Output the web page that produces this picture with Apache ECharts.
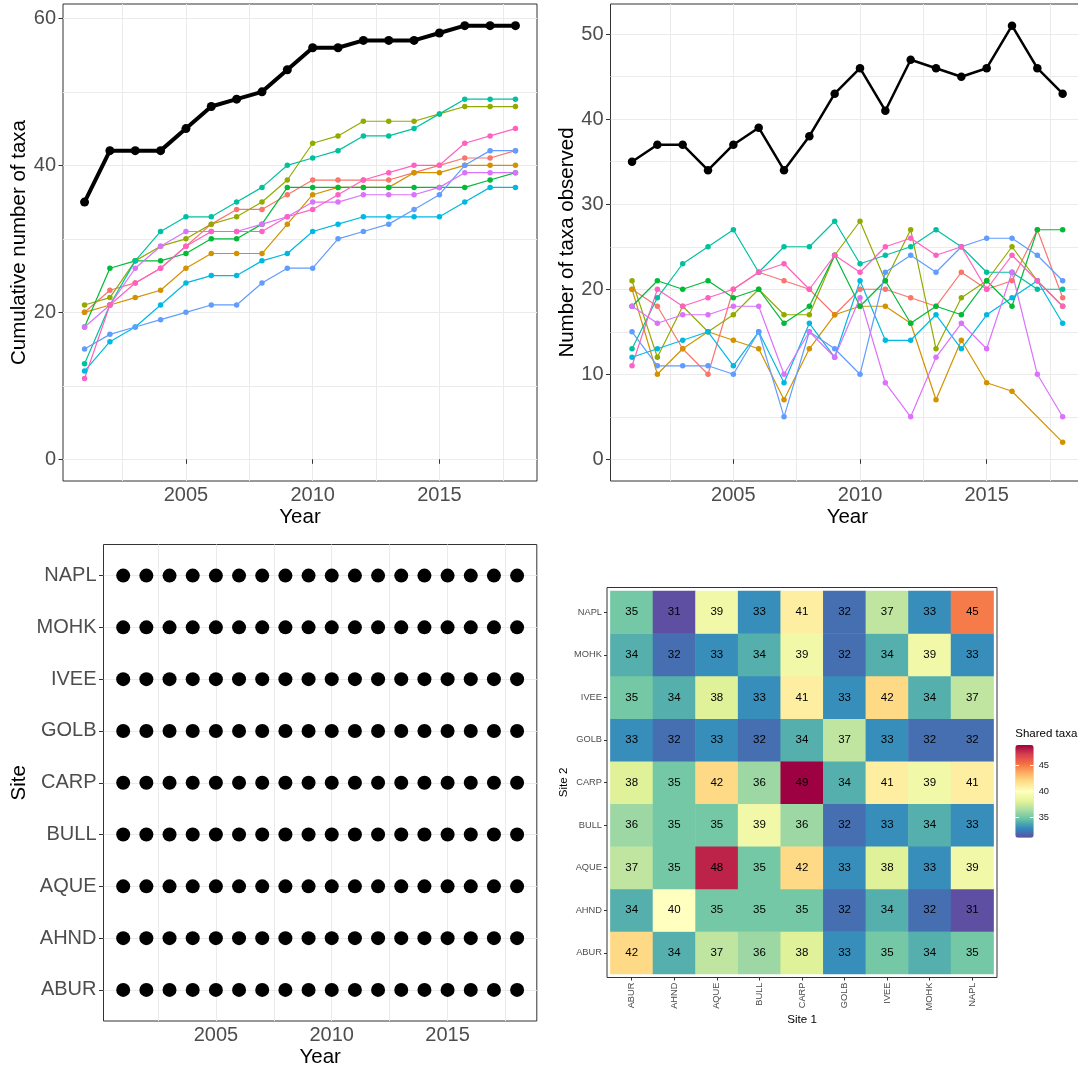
<!DOCTYPE html>
<html>
<head>
<meta charset="utf-8">
<title>Taxa richness by site</title>
<script src="https://cdn.jsdelivr.net/npm/echarts@6/dist/echarts.min.js"></script>
<style>
  html, body { margin: 0; padding: 0; background: #ffffff; }
  #chart { width: 1078px; height: 1069px; }
</style>
</head>
<body>
<div id="chart"></div>
<script>
// ---------------- data ----------------
const years = [2001, 2002, 2003, 2004, 2005, 2006, 2007, 2008, 2009, 2010, 2011, 2012, 2013, 2014, 2015, 2016, 2017, 2018];
const sites = ['ABUR', 'AHND', 'AQUE', 'BULL', 'CARP', 'GOLB', 'IVEE', 'MOHK', 'NAPL'];
const siteColors = ['#F8766D', '#D39200', '#93AA00', '#00BA38', '#00C19F', '#00B9E3', '#619CFF', '#DB72FB', '#FF61C3'];

// cumulative number of taxa, all sites pooled
const cumulativeAll = [35, 42, 42, 42, 45, 48, 49, 50, 53, 56, 56, 57, 57, 57, 58, 59, 59, 59];
// cumulative number of taxa per site
const cumABUR = [20, 23, 24, 26, 29, 32, 34, 34, 36, 38, 38, 38, 38, 39, 40, 41, 41, 42];
const cumAHND = [20, 21, 22, 23, 26, 28, 28, 28, 32, 36, 37, 37, 37, 39, 39, 40, 40, 40];
const cumAQUE = [21, 22, 27, 29, 30, 32, 33, 35, 38, 43, 44, 46, 46, 46, 47, 48, 48, 48];
const cumBULL = [18, 26, 27, 27, 28, 30, 30, 32, 37, 37, 37, 37, 37, 37, 37, 37, 38, 39];
const cumCARP = [13, 21, 27, 31, 33, 33, 35, 37, 40, 41, 42, 44, 44, 45, 47, 49, 49, 49];
const cumGOLB = [12, 16, 18, 21, 24, 25, 25, 27, 28, 31, 32, 33, 33, 33, 33, 35, 37, 37];
const cumIVEE = [15, 17, 18, 19, 20, 21, 21, 24, 26, 26, 30, 31, 32, 34, 36, 40, 42, 42];
const cumMOHK = [18, 21, 26, 29, 31, 31, 31, 32, 33, 35, 35, 36, 36, 36, 37, 39, 39, 39];
const cumNAPL = [11, 21, 24, 26, 29, 31, 31, 31, 33, 34, 36, 38, 39, 40, 40, 43, 44, 45];

// number of taxa observed each year, all sites pooled
const observedAll = [35, 37, 37, 34, 37, 39, 34, 38, 43, 46, 41, 47, 46, 45, 46, 51, 46, 43];
// number of taxa observed each year per site (null = no record)
const obsABUR = [20, 18, 13, 10, 20, 22, 21, 20, 17, 20, 20, 19, 18, 22, 20, 21, 27, 19];
const obsAHND = [20, 10, 13, 15, 14, 13, 7, 13, 17, 18, 18, 16, 7, 14, 9, 8, null, 2];
const obsAQUE = [21, 12, 18, 15, 17, 20, 17, 17, 24, 28, 21, 27, 13, 19, 21, 25, 21, 18];
const obsBULL = [18, 21, 20, 21, 19, 20, 16, 18, 24, 18, 21, 16, 18, 17, 21, 18, 27, 27];
const obsCARP = [13, 19, 23, 25, 27, 22, 25, 25, 28, 23, 24, 25, 27, 25, 22, 22, 20, 20];
const obsGOLB = [12, 13, 14, 15, 11, 15, 9, 16, 12, 21, 14, 14, 17, 13, 17, 19, 21, 16];
const obsIVEE = [15, 11, 11, 11, 10, 15, 5, 15, 13, 10, 22, 24, 22, 25, 26, 26, 24, 21];
const obsMOHK = [18, 16, 17, 17, 18, 18, 10, 15, 12, 19, 9, 5, 12, 16, 13, 22, 10, 5];
const obsNAPL = [11, 20, 18, 19, 20, 22, 23, 20, 24, 22, 25, 26, 24, 25, 20, 24, 21, 18];

// years in which each site was surveyed (every site, every year)
const surveyYears = years;

// shared taxa between sites: one row per Site 2, columns in Site 1 order
const sharedABUR = [42, 34, 37, 36, 38, 33, 35, 34, 35];
const sharedAHND = [34, 40, 35, 35, 35, 32, 34, 32, 31];
const sharedAQUE = [37, 35, 48, 35, 42, 33, 38, 33, 39];
const sharedBULL = [36, 35, 35, 39, 36, 32, 33, 34, 33];
const sharedCARP = [38, 35, 42, 36, 49, 34, 41, 39, 41];
const sharedGOLB = [33, 32, 33, 32, 34, 37, 33, 32, 32];
const sharedIVEE = [35, 34, 38, 33, 41, 33, 42, 34, 37];
const sharedMOHK = [34, 32, 33, 34, 39, 32, 34, 39, 33];
const sharedNAPL = [35, 31, 39, 33, 41, 32, 37, 33, 45];

const cumulativeBySite = [cumABUR, cumAHND, cumAQUE, cumBULL, cumCARP, cumGOLB, cumIVEE, cumMOHK, cumNAPL];
const observedBySite = [obsABUR, obsAHND, obsAQUE, obsBULL, obsCARP, obsGOLB, obsIVEE, obsMOHK, obsNAPL];
const sharedRows = [sharedABUR, sharedAHND, sharedAQUE, sharedBULL, sharedCARP, sharedGOLB, sharedIVEE, sharedMOHK, sharedNAPL];

// ---------------- styling / layout ----------------
const FONT = "'Liberation Sans', Arial, Helvetica, sans-serif";
const AXIS_TEXT = '#4D4D4D';
const TICK = '#333333';
const GRIDLINE = '#EBEBEB';
const BORDER = '#333333';
const SPECTRAL = ['#5E4FA2', '#3288BD', '#66C2A5', '#ABDDA4', '#E6F598', '#FFFFBF',
                  '#FEE08B', '#FDAE61', '#F46D43', '#D53E4F', '#9E0142'];

// panel frames (px) and the data range each frame spans (includes 5% padding)
const YEAR_SPAN = [2000.15, 2018.85];
const panelCum = { l: 63, t: 4, r: 537, b: 481, y: [-2.95, 61.95] };
const panelObs = { l: 610.5, t: 4, r: 1084.2, b: 481, y: [-2.55, 53.55] };
const panelSurvey = { l: 103.5, t: 544.5, r: 536.8, b: 1021, y: [0.4, 9.6] };
const panelHeat = { l: 607, t: 587.5, r: 997, b: 977.5, y: [0, 1], inset: 3.4 };
const colorbar = { l: 1015.3, t: 745, w: 18.4, h: 92.7 };

const option = {
  animation: false,
  backgroundColor: '#ffffff',
  textStyle: { fontFamily: FONT },
  title: [],
  grid: [],
  xAxis: [],
  yAxis: [],
  series: [],
  visualMap: []
};

const hidden = {
  axisLine: { show: false },
  axisTick: { show: false },
  axisLabel: { show: false },
  splitLine: { show: false }
};
const gridLineStyle = { show: true, lineStyle: { color: GRIDLINE, width: 1 } };

function addGrid(l, t, r, b, extra) {
  option.grid.push(Object.assign({
    left: l, top: t, width: r - l, height: b - t,
    containLabel: false, outerBoundsMode: 'none', show: false
  }, extra || {}));
  return option.grid.length - 1;
}
function addX(cfg) { option.xAxis.push(cfg); return option.xAxis.length - 1; }
function addY(cfg) { option.yAxis.push(cfg); return option.yAxis.length - 1; }
function hiddenAxis(g, lo, hi) { return Object.assign({ gridIndex: g, type: 'value', min: lo, max: hi }, hidden); }

function mapper(p, xr) {
  return {
    x: v => p.l + (v - xr[0]) / (xr[1] - xr[0]) * (p.r - p.l),
    y: v => p.b - (v - p.y[0]) / (p.y[1] - p.y[0]) * (p.b - p.t)
  };
}

// bordered panel spanning the padded data range; carries the axis titles
function addFrame(p, xr, xName, yName, xGap, yGap, fs) {
  const g = addGrid(p.l, p.t, p.r, p.b, {
    show: true, borderColor: BORDER, borderWidth: 1, backgroundColor: 'rgba(0,0,0,0)'
  });
  const nameStyle = { fontSize: fs, color: '#000000', fontFamily: FONT };
  const xi = addX(Object.assign({
    gridIndex: g, type: 'value', min: xr[0], max: xr[1], name: xName, nameLocation: 'middle',
    nameGap: xGap, nameTextStyle: nameStyle, nameMoveOverlap: false
  }, hidden));
  const yi = addY(Object.assign({
    gridIndex: g, type: 'value', min: p.y[0], max: p.y[1], name: yName, nameLocation: 'middle',
    nameGap: yGap, nameTextStyle: nameStyle, nameMoveOverlap: false
  }, hidden));
  return { xi, yi };
}

function tickLabel(fs, margin) {
  return {
    show: true, fontSize: fs, color: AXIS_TEXT, fontFamily: FONT, margin: margin,
    showMinLabel: true, showMaxLabel: true, formatter: v => String(v)
  };
}
const tickStyle = { show: true, length: 4.5, lineStyle: { color: TICK, width: 1 } };

// vertical year gridlines (major 5 yr, minor between) across the full panel height
function addYearGridlines(p, m) {
  const g = addGrid(m.x(2002.5), p.t, m.x(2017.5), p.b);
  addX(Object.assign({}, hidden, {
    gridIndex: g, type: 'value', min: 2002.5, max: 2017.5, interval: 2.5, splitLine: gridLineStyle
  }));
  addY(hiddenAxis(g, 0, 1));
}

// year tick marks and labels at 2005 / 2010 / 2015, placed on the panel's bottom edge
function addYearTicks(p, m, t, b) {
  const g = addGrid(m.x(2005), t, m.x(2015), b);
  addX({
    gridIndex: g, type: 'value', min: 2005, max: 2015, interval: 5,
    offset: p.b - b,
    axisLine: { show: false }, axisTick: tickStyle, axisLabel: tickLabel(20, 4),
    splitLine: { show: false }
  });
  return g;
}

// numeric panel guides: gridlines in both directions plus ticks/labels
function addYearGuides(p, yMax, yMinor, yMajor) {
  const m = mapper(p, YEAR_SPAN);
  addYearGridlines(p, m);
  const hg = addGrid(p.l, m.y(yMax), p.r, m.y(0));
  addX(hiddenAxis(hg, 0, 1));
  addY(Object.assign({}, hidden, {
    gridIndex: hg, type: 'value', min: 0, max: yMax, interval: yMinor, splitLine: gridLineStyle
  }));
  const tg = addYearTicks(p, m, m.y(yMax), m.y(0));
  addY({
    gridIndex: tg, type: 'value', min: 0, max: yMax, interval: yMajor,
    offset: m.x(2005) - p.l,
    axisLine: { show: false }, axisTick: tickStyle, axisLabel: tickLabel(20, 7),
    splitLine: { show: false }
  });
}

function addLines(ax, bySite, total, totalWidth, totalSize) {
  bySite.forEach((vals, i) => {
    option.series.push({
      type: 'line', name: sites[i], xAxisIndex: ax.xi, yAxisIndex: ax.yi,
      data: years.map((yr, j) => [yr, vals[j]]),
      connectNulls: true, symbol: 'circle', symbolSize: 5.5,
      showSymbol: true, showAllSymbol: true,
      lineStyle: { color: siteColors[i], width: 1.2 },
      itemStyle: { color: siteColors[i], opacity: 1 },
      emphasis: { disabled: true }, z: 2
    });
  });
  option.series.push({
    type: 'line', name: 'All sites', xAxisIndex: ax.xi, yAxisIndex: ax.yi,
    data: years.map((yr, j) => [yr, total[j]]),
    symbol: 'circle', symbolSize: totalSize,
    showSymbol: true, showAllSymbol: true,
    lineStyle: { color: '#000000', width: totalWidth },
    itemStyle: { color: '#000000', opacity: 1 },
    emphasis: { disabled: true }, z: 3
  });
}

// ---------- panel 1: cumulative number of taxa ----------
const axCum = addFrame(panelCum, YEAR_SPAN, 'Year', 'Cumulative number of taxa', 26, 33, 20.5);
addYearGuides(panelCum, 60, 10, 20);
addLines(axCum, cumulativeBySite, cumulativeAll, 4, 9);

// ---------- panel 2: number of taxa observed ----------
const axObs = addFrame(panelObs, YEAR_SPAN, 'Year', 'Number of taxa observed', 26, 32.5, 20.5);
addYearGuides(panelObs, 50, 5, 10);
addLines(axObs, observedBySite, observedAll, 2.5, 8.5);

// ---------- panel 3: survey years per site ----------
addFrame(panelSurvey, YEAR_SPAN, 'Year', 'Site', 26, 73.5, 20.5);
(function () {
  const p = panelSurvey;
  const m = mapper(p, YEAR_SPAN);
  const catTop = m.y(sites.length), catBottom = m.y(1);
  addYearGridlines(p, m);
  const g = addGrid(p.l, catTop, p.r, catBottom);
  const xi = addX(hiddenAxis(g, YEAR_SPAN[0], YEAR_SPAN[1]));
  const yi = addY({
    gridIndex: g, type: 'category', data: sites, boundaryGap: false,
    axisLine: { show: false },
    axisTick: Object.assign({ alignWithLabel: true, interval: 0 }, tickStyle),
    axisLabel: { show: true, interval: 0, fontSize: 20, color: AXIS_TEXT, fontFamily: FONT, margin: 7 },
    splitLine: { show: true, interval: 0, lineStyle: { color: GRIDLINE, width: 1 } }
  });
  const tg = addYearTicks(p, m, catTop, catBottom);
  addY(hiddenAxis(tg, 0, 1));
  const pts = [];
  sites.forEach(s => surveyYears.forEach(yr => pts.push([yr, s])));
  option.series.push({
    type: 'scatter', name: 'Surveys', xAxisIndex: xi, yAxisIndex: yi, data: pts,
    symbol: 'circle', symbolSize: 14,
    itemStyle: { color: '#000000', opacity: 1 }, emphasis: { disabled: true }, z: 3
  });
})();

// ---------- panel 4: shared taxa heatmap ----------
addFrame(panelHeat, [0, 1], 'Site 1', 'Site 2', 36, 37.5, 11.6);
(function () {
  const p = panelHeat, k = p.inset;
  const g = addGrid(p.l + k, p.t + k, p.r - k, p.b - k);
  const xi = addX({
    gridIndex: g, type: 'category', data: sites, boundaryGap: true, offset: k,
    axisLine: { show: false },
    axisTick: { show: true, alignWithLabel: true, interval: 0, length: 3, lineStyle: { color: TICK } },
    axisLabel: { show: true, interval: 0, rotate: 90, fontSize: 9.3, color: AXIS_TEXT, fontFamily: FONT, margin: 5 },
    splitLine: { show: false }
  });
  const yi = addY({
    gridIndex: g, type: 'category', data: sites, boundaryGap: true, offset: k,
    axisLine: { show: false },
    axisTick: { show: true, alignWithLabel: true, interval: 0, length: 3, lineStyle: { color: TICK } },
    axisLabel: { show: true, interval: 0, fontSize: 9.3, color: AXIS_TEXT, fontFamily: FONT, margin: 5 },
    splitLine: { show: false }
  });
  const cells = [];
  sharedRows.forEach((row, r) => row.forEach((v, c) => cells.push([c, r, v])));
  option.series.push({
    type: 'heatmap', name: 'Shared taxa', xAxisIndex: xi, yAxisIndex: yi, data: cells,
    label: { show: true, formatter: q => String(q.value[2]), fontSize: 11.5, color: '#000000', fontFamily: FONT },
    itemStyle: { borderWidth: 0 },
    emphasis: { disabled: true }
  });
  const heatIndex = option.series.length - 1;
  let lo = Infinity, hi = -Infinity;
  sharedRows.forEach(row => row.forEach(v => { lo = Math.min(lo, v); hi = Math.max(hi, v); }));

  option.visualMap.push({
    type: 'continuous', seriesIndex: heatIndex, dimension: 2, min: lo, max: hi,
    inRange: { color: SPECTRAL }, orient: 'vertical',
    left: colorbar.l, top: colorbar.t, itemWidth: colorbar.w, itemHeight: colorbar.h,
    calculable: false, hoverLink: false, padding: 0, text: null, showLabel: false,
    textStyle: { fontSize: 0 }
  });
  option.title.push({
    text: 'Shared taxa', left: colorbar.l, top: colorbar.t - 17.5, padding: 0,
    textStyle: { fontSize: 11.5, fontWeight: 'normal', color: '#000000', fontFamily: FONT }
  });

  // colour bar ticks and labels at 35, 40, 45
  const perUnit = colorbar.h / (hi - lo);
  const yAt = v => colorbar.t + (hi - v) * perUnit;
  const cg = addGrid(colorbar.l, yAt(45), colorbar.l + colorbar.w, yAt(35));
  addX(hiddenAxis(cg, 0, 1));
  const whiteTick = { show: true, inside: true, length: 3.7, lineStyle: { color: '#ffffff', width: 1 } };
  addY({
    gridIndex: cg, type: 'value', position: 'left', min: 35, max: 45, interval: 5, z: 10,
    axisLine: { show: false }, axisTick: whiteTick, axisLabel: { show: false }, splitLine: { show: false }
  });
  addY({
    gridIndex: cg, type: 'value', position: 'right', min: 35, max: 45, interval: 5, z: 10,
    axisLine: { show: false }, axisTick: whiteTick,
    axisLabel: { show: true, fontSize: 9.3, color: '#1A1A1A', fontFamily: FONT, margin: 5,
                 showMinLabel: true, showMaxLabel: true },
    splitLine: { show: false }
  });
})();

const chart = echarts.init(document.getElementById('chart'), null, { renderer: 'canvas' });
chart.setOption(option);
</script>
</body>
</html>
